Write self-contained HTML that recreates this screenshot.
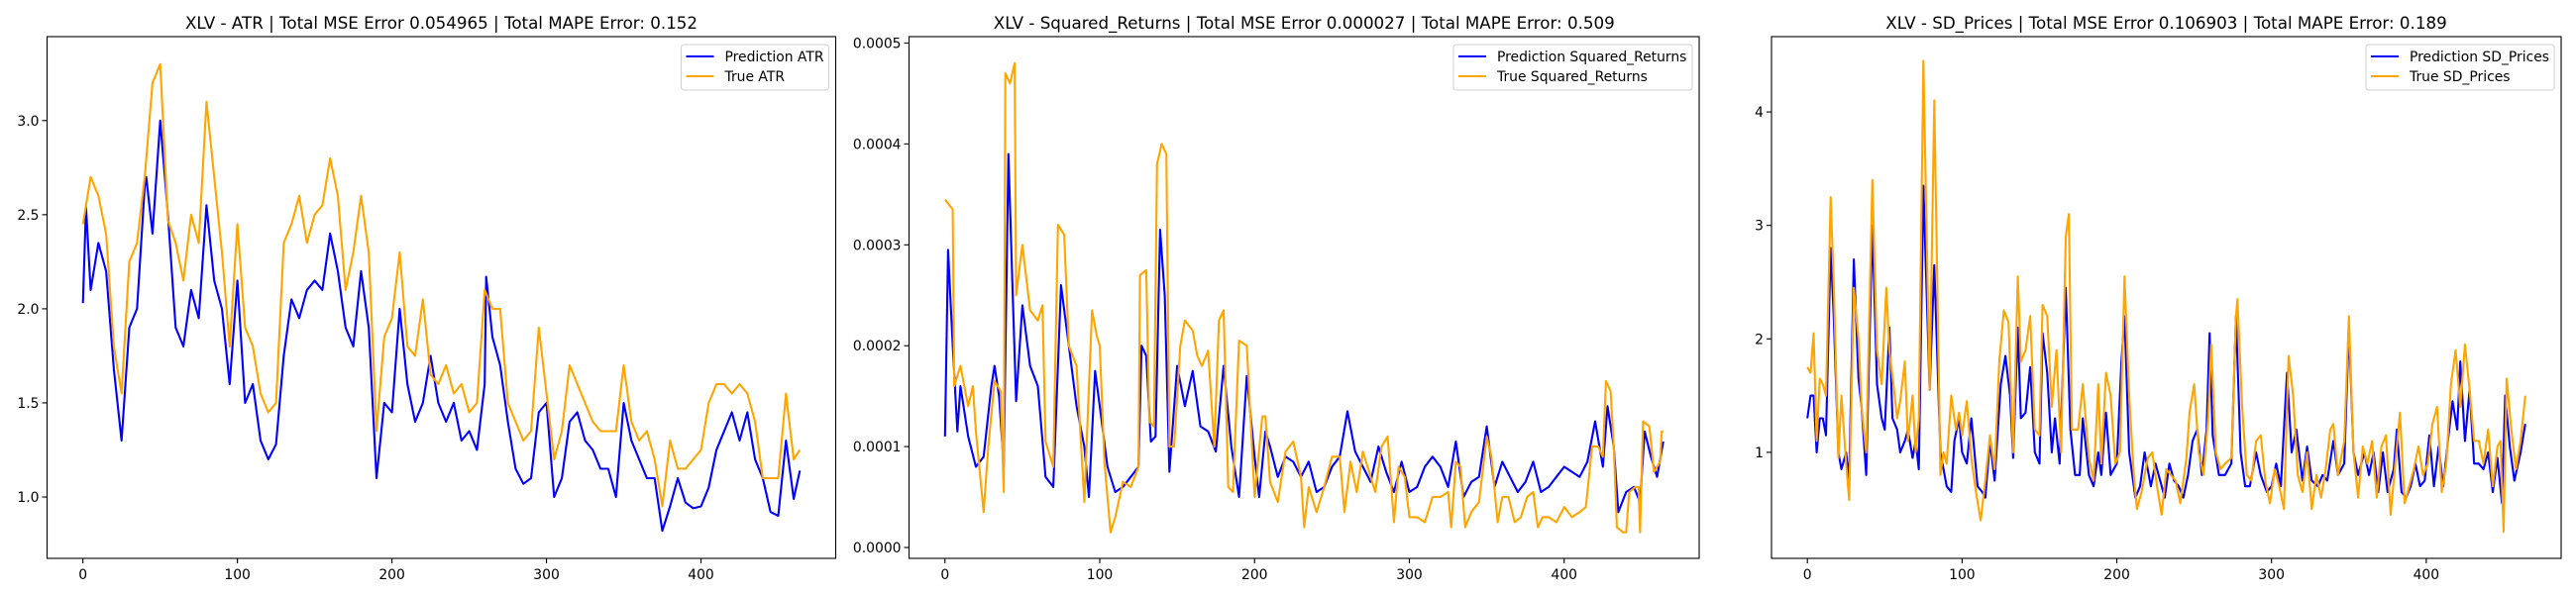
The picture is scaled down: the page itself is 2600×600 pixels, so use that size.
<!DOCTYPE html>
<html><head><meta charset="utf-8">
<style>
html,body{margin:0;padding:0;background:#fff;}
svg{display:block;font-family:"DejaVu Sans","Liberation Sans",sans-serif;}
</style></head>
<body>
<svg id="fig" width="2600" height="600" viewBox="0 0 2600 600" xmlns="http://www.w3.org/2000/svg"></svg>
<script>
// ---- Panel 1: ATR ----
const atrPredX = [0,2,5,10,15,20,25,30,35,40,41,45,50,55,60,65,70,75,80,85,90,95,100,105,110,115,120,125,130,135,140,145,150,155,160,165,170,175,180,185,190,195,200,205,210,215,220,225,230,235,240,245,250,255,260,261,265,270,275,280,285,290,295,300,305,310,315,320,325,330,335,340,345,350,355,360,365,370,375,380,385,390,395,400,405,410,415,420,425,430,435,440,445,450,455,460,464];
const atrPredY = [2.03,2.54,2.1,2.35,2.2,1.68,1.3,1.9,2.0,2.65,2.7,2.4,3.0,2.5,1.9,1.8,2.1,1.95,2.55,2.15,2.0,1.6,2.15,1.5,1.6,1.3,1.2,1.28,1.75,2.05,1.95,2.1,2.15,2.1,2.4,2.2,1.9,1.8,2.2,1.9,1.1,1.5,1.45,2.0,1.6,1.4,1.5,1.75,1.5,1.4,1.5,1.3,1.35,1.25,1.6,2.17,1.85,1.7,1.4,1.15,1.07,1.1,1.45,1.5,1.0,1.1,1.4,1.45,1.3,1.25,1.15,1.15,1.0,1.5,1.3,1.2,1.1,1.1,0.82,0.95,1.1,0.97,0.94,0.95,1.05,1.25,1.35,1.45,1.3,1.45,1.2,1.1,0.92,0.9,1.3,0.99,1.14];
const atrTrueX = [0,5,10,15,20,25,30,35,40,45,50,55,60,65,70,75,80,85,90,95,100,105,110,115,120,125,130,135,140,145,150,155,160,165,170,175,180,185,190,195,200,205,210,215,220,225,230,235,240,245,250,255,260,265,270,275,280,285,290,295,300,305,310,315,320,325,330,335,340,345,350,355,360,365,370,375,380,385,390,395,400,405,410,415,420,425,430,435,440,445,450,455,460,464];
const atrTrueY = [2.45,2.7,2.6,2.4,1.8,1.55,2.25,2.35,2.7,3.2,3.3,2.47,2.35,2.15,2.5,2.35,3.1,2.7,2.3,1.8,2.45,1.9,1.8,1.55,1.45,1.5,2.35,2.45,2.6,2.35,2.5,2.55,2.8,2.6,2.1,2.3,2.6,2.3,1.35,1.85,1.95,2.3,1.8,1.75,2.05,1.65,1.6,1.7,1.55,1.6,1.45,1.5,2.1,2.0,2.0,1.5,1.4,1.3,1.35,1.9,1.55,1.2,1.35,1.7,1.6,1.5,1.4,1.35,1.35,1.35,1.7,1.4,1.3,1.35,1.2,0.95,1.3,1.15,1.15,1.2,1.25,1.5,1.6,1.6,1.55,1.6,1.55,1.4,1.1,1.1,1.1,1.55,1.2,1.25];
const atrYTicks = [1.0,1.5,2.0,2.5,3.0];
// ---- Panel 2: Squared returns (values x1e-4) ----
const srPredX = [0,2,5,8,10,15,20,25,30,32,35,38,41,44,46,50,55,60,65,70,75,80,85,90,93,97,100,105,110,115,120,125,127,130,133,136,139,142,145,150,155,160,165,170,175,180,185,190,195,200,203,207,210,215,220,225,230,235,240,245,250,255,260,265,270,275,280,285,290,295,300,305,310,315,320,325,330,335,340,345,350,355,360,365,370,375,380,385,390,395,400,405,410,415,420,425,428,432,435,440,445,449,452,456,460,464];
const srPredY = [1.1,2.95,2.0,1.15,1.6,1.1,0.8,0.9,1.6,1.8,1.5,0.8,3.9,2.4,1.45,2.4,1.8,1.6,0.7,0.6,2.6,2.0,1.4,1.0,0.5,1.75,1.4,0.8,0.55,0.6,0.7,0.8,2.0,1.9,1.05,1.1,3.15,2.5,0.75,1.8,1.4,1.75,1.2,1.15,0.95,1.8,1.0,0.5,1.7,0.9,0.5,1.15,1.0,0.7,0.9,0.85,0.7,0.85,0.55,0.6,0.8,0.9,1.35,0.95,0.8,0.65,1.0,0.75,0.55,0.85,0.55,0.6,0.8,0.9,0.8,0.6,1.05,0.5,0.65,0.7,1.2,0.6,0.85,0.7,0.55,0.65,0.85,0.55,0.6,0.7,0.8,0.75,0.7,0.85,1.25,0.8,1.4,1.0,0.35,0.55,0.6,0.45,1.15,0.9,0.7,1.05];
const srTrueX = [0,5,6,10,15,18,20,25,28,32,36,38,39,42,45,46,50,55,60,63,65,70,73,77,80,85,90,95,98,100,103,107,110,115,120,125,126,130,132,135,137,140,143,145,148,152,155,160,163,166,170,174,177,180,183,186,190,195,200,205,207,210,215,220,225,230,232,235,240,245,250,255,258,262,266,270,275,278,282,286,290,293,297,300,305,310,315,320,325,327,330,333,336,340,345,350,353,357,360,364,368,372,376,380,383,386,390,395,400,405,410,414,418,422,425,427,430,432,434,438,440,442,446,448,449,451,455,458,462,463,464];
const srTrueY = [3.45,3.35,1.6,1.8,1.4,1.6,1.15,0.35,1.0,1.65,1.55,0.55,4.7,4.6,4.8,2.5,3.0,2.35,2.25,2.4,1.05,0.8,3.2,3.1,2.0,1.8,0.45,2.35,2.1,2.0,0.85,0.15,0.3,0.65,0.6,0.8,2.7,2.75,1.25,1.2,3.8,4.0,3.9,1.0,1.0,2.0,2.25,2.15,1.9,1.8,1.95,1.0,2.25,2.35,0.6,0.55,2.05,2.0,0.5,1.3,1.3,0.65,0.45,0.95,1.05,0.7,0.2,0.6,0.35,0.6,0.9,0.9,0.35,0.85,0.55,0.95,0.7,0.55,1.0,1.1,0.25,0.8,0.7,0.3,0.3,0.25,0.5,0.5,0.55,0.2,0.85,0.8,0.2,0.35,0.45,1.1,0.9,0.25,0.5,0.5,0.25,0.3,0.5,0.55,0.2,0.3,0.3,0.25,0.4,0.3,0.35,0.4,1.0,1.0,0.9,1.65,1.55,1.0,0.2,0.15,0.15,0.55,0.6,0.6,0.15,1.25,1.2,0.75,0.85,1.15,1.15];
const srYTicks = [0,1,2,3,4,5];
// ---- Panel 3: SD prices ----
const sdPredX = [0,2,4,6,8,10,12,15,17,20,22,25,27,30,33,35,38,42,45,48,50,53,55,58,60,63,65,68,70,72,75,79,82,86,90,93,95,98,100,103,106,110,113,115,118,121,125,128,131,133,136,138,141,144,147,150,152,155,158,160,163,167,170,173,176,178,182,185,188,190,193,196,200,203,205,208,212,215,218,222,225,228,231,234,237,240,243,246,249,252,255,258,260,262,266,270,274,277,280,283,286,290,293,297,300,303,306,310,313,316,320,323,326,330,333,336,340,343,347,350,353,356,360,363,366,369,372,375,379,381,384,387,390,393,396,399,402,405,408,411,414,417,420,422,425,428,431,434,437,440,443,446,449,451,454,457,461,464];
const sdPredY = [1.3,1.5,1.5,1.0,1.3,1.3,1.15,2.8,2.2,1.0,0.85,1.0,0.75,2.7,1.65,1.4,0.8,3.0,1.6,1.3,1.2,2.1,1.3,1.2,1.0,1.1,1.2,0.95,1.1,0.85,3.35,1.55,2.65,1.0,0.7,0.65,1.1,1.3,1.0,0.9,1.3,0.7,0.65,0.6,1.1,0.75,1.6,1.85,1.5,0.95,2.1,1.3,1.35,1.75,1.0,0.9,2.05,1.7,1.0,1.3,0.9,2.45,1.2,0.8,0.8,1.3,0.8,0.7,1.0,0.8,1.35,0.8,0.9,1.8,2.2,1.0,0.6,0.7,1.0,0.7,0.9,0.75,0.6,0.9,0.75,0.7,0.6,0.8,1.1,1.2,0.8,1.2,2.05,1.15,0.8,0.8,0.9,2.2,1.0,0.7,0.7,1.0,0.8,0.65,0.7,0.9,0.7,1.7,1.0,1.2,0.75,1.05,0.75,0.7,0.8,0.75,1.1,0.8,0.9,2.1,1.0,0.8,1.0,0.8,1.0,0.65,1.0,0.65,0.85,1.2,0.65,0.6,0.7,0.9,0.7,0.75,1.15,0.7,1.05,0.7,1.1,1.45,1.2,1.8,1.1,1.55,0.9,0.9,0.85,1.0,0.65,0.95,0.55,1.5,1.05,0.75,1.0,1.25];
const sdTrueX = [0,2,4,6,8,10,12,15,17,20,22,25,27,30,33,35,38,42,45,48,51,53,56,58,60,63,65,68,70,72,75,79,82,86,88,90,93,96,98,100,103,106,109,112,115,118,121,124,127,130,133,136,138,141,144,147,150,152,155,158,161,164,167,169,171,175,178,182,185,188,190,193,196,199,202,205,208,211,213,216,220,223,226,229,232,235,238,241,245,247,250,253,256,259,261,264,267,270,274,277,278,281,284,287,290,293,296,299,302,305,308,311,314,317,320,323,326,329,332,335,338,340,343,347,350,353,356,359,362,365,368,371,374,377,380,383,386,389,392,395,398,401,404,407,410,413,416,419,422,425,428,431,434,437,440,443,446,448,450,452,455,458,461,464];
const sdTrueY = [1.75,1.7,2.05,1.1,1.65,1.6,1.5,3.25,2.5,0.95,1.5,0.9,0.58,2.45,2.0,1.4,1.0,3.4,1.9,1.6,2.45,1.9,1.55,1.3,1.45,1.8,1.1,1.5,1.0,1.3,4.45,1.55,4.1,0.8,1.0,0.9,1.5,1.2,1.35,1.15,1.45,0.95,0.65,0.4,0.75,1.15,0.85,1.8,2.25,2.15,1.0,2.55,1.8,1.9,2.2,1.2,1.15,2.3,2.2,1.4,1.9,1.0,2.9,3.1,1.2,1.2,1.6,0.95,0.75,1.6,0.9,1.7,1.5,0.9,1.0,2.55,1.5,0.8,0.5,0.65,0.95,1.0,0.7,0.45,0.85,0.8,0.75,0.55,0.95,1.35,1.6,1.0,0.8,1.3,1.95,1.0,0.85,0.9,0.95,2.2,2.35,1.4,0.8,0.75,1.1,1.15,0.75,0.55,0.85,0.7,0.5,1.85,1.5,0.8,0.65,1.0,0.5,0.8,0.6,0.85,1.2,1.25,0.8,1.1,2.2,1.0,0.6,1.05,0.9,1.1,0.6,1.05,1.15,0.45,0.9,1.35,0.55,0.7,0.85,1.05,0.8,0.9,1.25,1.4,0.65,0.9,1.6,1.9,1.4,1.95,1.55,1.1,1.1,0.9,1.2,0.7,1.05,1.1,0.3,1.65,1.2,0.85,1.1,1.5];
const sdYTicks = [1,2,3,4];
const xTicks = [0,100,200,300,400];

const NS = "http://www.w3.org/2000/svg";
const fig = document.getElementById('fig');
function mk(tag, attrs, parent) {
  const e = document.createElementNS(NS, tag);
  for (const k in attrs) e.setAttribute(k, attrs[k]);
  (parent || fig).appendChild(e);
  return e;
}
const panels = [
  {key:'atr', title:'XLV - ATR | Total MSE Error 0.054965 | Total MAPE Error: 0.152', left:47.5, right:843.5,
   ymin:0.674, ymax:3.446, yt:atrYTicks, fmt:v=>v.toFixed(1), pred:[atrPredX,atrPredY], tru:[atrTrueX,atrTrueY], scale:1,
   labels:['Prediction ATR','True ATR'], legW:149},
  {key:'sr', title:'XLV - Squared_Returns | Total MSE Error 0.000027 | Total MAPE Error: 0.509', left:917.5, right:1715,
   ymin:-0.108, ymax:5.064, yt:srYTicks, fmt:v=>(v/10000).toFixed(4), pred:[srPredX,srPredY], tru:[srTrueX,srTrueY], scale:1,
   labels:['Prediction Squared_Returns','True Squared_Returns'], legW:241},
  {key:'sd', title:'XLV - SD_Prices | Total MSE Error 0.106903 | Total MAPE Error: 0.189', left:1788, right:2585,
   ymin:0.065, ymax:4.664, yt:sdYTicks, fmt:v=>String(v), pred:[sdPredX,sdPredY], tru:[sdTrueX,sdTrueY], scale:1,
   labels:['Prediction SD_Prices','True SD_Prices'], legW:190}
];
const TOP = 37, BOT = 564, XMIN = -23.2, XMAX = 487.2;
panels.forEach(p => {
  const g = mk('g', {});
  
  
  const sx = v => p.left + (v - XMIN) / (XMAX - XMIN) * (p.right - p.left);
  const sy = v => BOT - (v - p.ymin) / (p.ymax - p.ymin) * (BOT - TOP);
  const t = mk('text', {x:(p.left+p.right)/2, y:29, 'text-anchor':'middle', 'font-size':'16.7', fill:'#000'}, g);
  t.textContent = p.title;
  
  
  // lines
  [[p.pred,'#0000ff','prediction-line'],[p.tru,'#ffa500','true-line']].forEach(([s,c,n]) => {
    const pts = s[0].map((x,i) => sx(x).toFixed(1) + ',' + sy(s[1][i]).toFixed(1)).join(' ');
    const l = mk('polyline', {points:pts, fill:'none', stroke:c, 'stroke-width':'2.1', 'stroke-linejoin':'round'}, g);
    
    
  });
  // frame
  const fr = mk('rect', {x:p.left, y:TOP, width:p.right-p.left, height:BOT-TOP, fill:'none', stroke:'#000', 'stroke-width':'1.1'}, g);
  
  
  // x ticks
  xTicks.forEach(v => {
    const x = sx(v);
    mk('line', {x1:x, x2:x, y1:BOT, y2:BOT+5, stroke:'#000', 'stroke-width':'1.1'}, g);
    const tl = mk('text', {x:x, y:BOT+21, 'text-anchor':'middle', 'font-size':'13.9'}, g);
    tl.textContent = String(v);
    
    
  });
  // y ticks
  p.yt.forEach(v => {
    const y = sy(v);
    mk('line', {x1:p.left-5, x2:p.left, y1:y, y2:y, stroke:'#000', 'stroke-width':'1.1'}, g);
    const tl = mk('text', {x:p.left-8, y:y+5, 'text-anchor':'end', 'font-size':'13.9'}, g);
    tl.textContent = p.fmt(v);
    
    
  });
  // legend
  const lx = p.right - 7 - p.legW, ly = 45;
  const lg = mk('g', {}, g);
  
  
  mk('rect', {x:lx, y:ly, width:p.legW, height:46, rx:3, fill:'#fff', 'fill-opacity':'0.8', stroke:'#d0d0d0', 'stroke-width':'1'}, lg);
  [['#0000ff',p.labels[0],57],['#ffa500',p.labels[1],77]].forEach(([c,lab,yy]) => {
    mk('line', {x1:lx+5, x2:lx+33, y1:yy, y2:yy, stroke:c, 'stroke-width':'2.1'}, lg);
    const tt = mk('text', {x:lx+44, y:yy+5, 'font-size':'13.9'}, lg);
    tt.textContent = lab;
    
    
  });
});
</script>
</body></html>
